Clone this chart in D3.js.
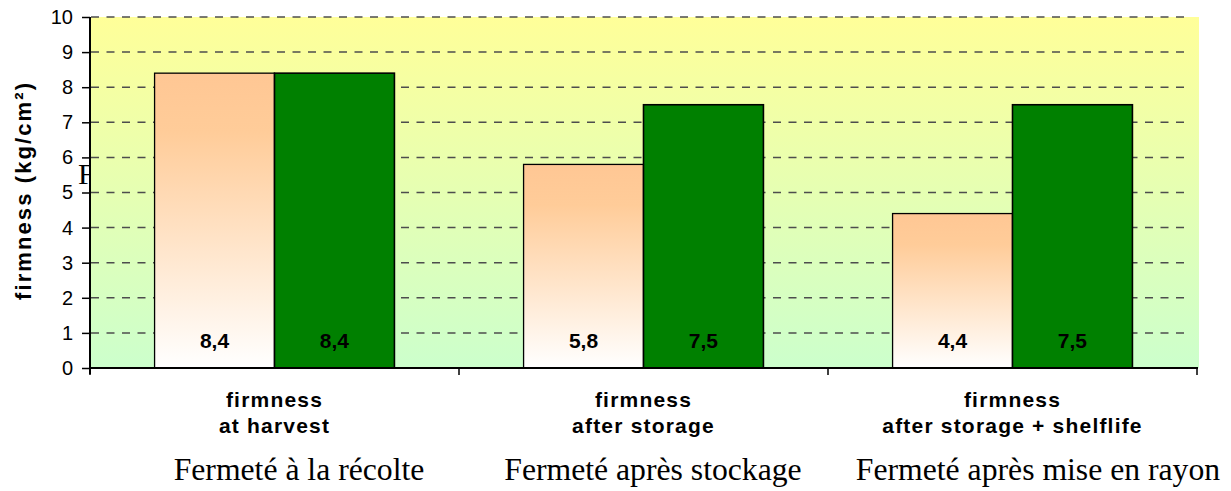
<!DOCTYPE html>
<html>
<head>
<meta charset="utf-8">
<script src="https://cdn.jsdelivr.net/npm/d3@7"></script>
<style>
  html, body { margin: 0; padding: 0; background: #fff; }
  svg { display: block; }
</style>
</head>
<body>
<svg id="chart" width="1231" height="491"></svg>
<script>
const categories = ["at harvest", "after storage", "after storage + shelflife"];
const categoryLine1 = ["firmness", "firmness", "firmness"];
const frenchLabels = ["Fermeté à la récolte", "Fermeté après stockage", "Fermeté après mise en rayon"];
const seriesNames = ["A", "B"];
const seriesA = [8.4, 5.8, 4.4];
const seriesB = [8.4, 7.5, 7.5];
const valueLabelsA = ["8,4", "5,8", "4,4"];
const valueLabelsB = ["8,4", "7,5", "7,5"];
const yTicks = [0, 1, 2, 3, 4, 5, 6, 7, 8, 9, 10];
const yTitle = "firmness (kg/cm²)";

(function () {
const svg = d3.select("#chart");
const mLeft = 90, mRight = 1197, mTop = 17, mBottom = 368;

const x0 = d3.scaleBand().domain(categories).range([mLeft, mRight]).paddingInner(0.35).paddingOuter(0.175);
const x1 = d3.scaleBand().domain(seriesNames).range([0, x0.bandwidth()]).padding(0);
const y = d3.scaleLinear().domain([0, 10]).range([mBottom, mTop]);

const defs = svg.append("defs");
const bg = defs.append("linearGradient").attr("id", "bg").attr("x1", 0).attr("y1", 0).attr("x2", 0).attr("y2", 1);
bg.append("stop").attr("offset", 0).attr("stop-color", "#FFFF99");
bg.append("stop").attr("offset", 1).attr("stop-color", "#CCFFCC");
const pg = defs.append("linearGradient").attr("id", "peach").attr("x1", 0).attr("y1", 0).attr("x2", 0).attr("y2", 1);
pg.append("stop").attr("offset", 0).attr("stop-color", "#FFC794");
pg.append("stop").attr("offset", 0.2).attr("stop-color", "#FFCC99");
pg.append("stop").attr("offset", 1).attr("stop-color", "#FFFFFF");

// stray text fragment behind the plot
svg.append("text").attr("x", 78).attr("y", 184)
  .attr("font-family", "'Liberation Serif', 'Times New Roman', serif").attr("font-size", 30)
  .attr("fill", "#000").text("F");

// plot background
svg.append("rect").attr("x", mLeft + 1).attr("y", y(10)).attr("width", mRight + 1 - mLeft).attr("height", y(0) - y(10))
  .attr("fill", "url(#bg)");

// gridlines
svg.append("g").selectAll("line").data(yTicks.filter(d => d > 0)).join("line")
  .attr("x1", mLeft + 1).attr("x2", 1191)
  .attr("y1", d => y(d)).attr("y2", d => y(d))
  .attr("stroke", "#4d4d4d").attr("stroke-width", 1.5).attr("stroke-dasharray", "8,7.5");

// bars
const groups = svg.append("g").selectAll("g").data(categories).join("g")
  .attr("transform", d => `translate(${x0(d)},0)`);

groups.append("rect")
  .attr("x", x1("A")).attr("width", x1.bandwidth())
  .attr("y", (d, i) => y(seriesA[i])).attr("height", (d, i) => y(0) - y(seriesA[i]))
  .attr("fill", "url(#peach)").attr("stroke", "#000").attr("stroke-width", 1.3);

groups.append("rect")
  .attr("x", x1("B")).attr("width", x1.bandwidth())
  .attr("y", (d, i) => y(seriesB[i])).attr("height", (d, i) => y(0) - y(seriesB[i]))
  .attr("fill", "#008000").attr("stroke", "#000").attr("stroke-width", 1.6);

// value labels
const valFont = "'Liberation Sans', Arial, sans-serif";
groups.append("text")
  .attr("x", x1("A") + x1.bandwidth() / 2).attr("y", 348)
  .attr("text-anchor", "middle").attr("font-family", valFont).attr("font-weight", "bold")
  .attr("font-size", 21)
  .text((d, i) => valueLabelsA[i]);
groups.append("text")
  .attr("x", x1("B") + x1.bandwidth() / 2).attr("y", 348)
  .attr("text-anchor", "middle").attr("font-family", valFont).attr("font-weight", "bold")
  .attr("font-size", 21)
  .text((d, i) => valueLabelsB[i]);

// y axis
const yAxis = svg.append("g").attr("transform", `translate(${mLeft},0)`)
  .call(d3.axisLeft(y).tickValues(yTicks).tickSize(8).tickPadding(9).tickFormat(d3.format("d")));
yAxis.select(".domain").attr("stroke", "#000").attr("stroke-width", 2).attr("d", `M0,${mTop}V${mBottom + 6}`);
yAxis.selectAll(".tick line").attr("stroke", "#000").attr("stroke-width", 1.5);
yAxis.selectAll(".tick text").attr("font-family", valFont).attr("font-size", 20).attr("fill", "#000");

// x axis
const xTickPos = [mLeft, ...categories.map(c => x0(c) + x0.bandwidth() / 2 + x0.step() / 2)];
const xAxis = svg.append("g");
xAxis.append("line").attr("x1", mLeft).attr("x2", mRight + 1).attr("y1", mBottom).attr("y2", mBottom)
  .attr("stroke", "#000").attr("stroke-width", 2.2);
xAxis.selectAll("line.t").data(xTickPos).join("line").attr("class", "t")
  .attr("x1", d => d).attr("x2", d => d).attr("y1", mBottom).attr("y2", mBottom + 7)
  .attr("stroke", "#000").attr("stroke-width", 1.5);

// category labels
const catG = svg.append("g").selectAll("text").data(categories).join("text")
  .attr("text-anchor", "middle").attr("font-family", valFont).attr("font-weight", "bold")
  .attr("font-size", 21).attr("letter-spacing", 1.2).attr("fill", "#000");
catG.append("tspan").attr("x", d => x0(d) + x0.bandwidth() / 2).attr("y", 407).text((d, i) => categoryLine1[i]);
catG.append("tspan").attr("x", d => x0(d) + x0.bandwidth() / 2).attr("y", 433).text(d => d);

// french labels
const frX = [299, 653, 1038];
svg.append("g").selectAll("text").data(frenchLabels).join("text")
  .attr("x", (d, i) => frX[i]).attr("y", 480)
  .attr("text-anchor", "middle").attr("font-family", "'Liberation Serif', 'Times New Roman', serif")
  .attr("font-size", 31.7).attr("fill", "#000").text(d => d);

// y title
svg.append("text")
  .attr("transform", `translate(31,${(83 + 300) / 2}) rotate(-90)`)
  .attr("text-anchor", "middle").attr("font-family", valFont).attr("font-weight", "bold")
  .attr("font-size", 22).attr("textLength", 217).attr("lengthAdjust", "spacing")
  .attr("fill", "#000").text(yTitle);
})();
</script>
</body>
</html>
